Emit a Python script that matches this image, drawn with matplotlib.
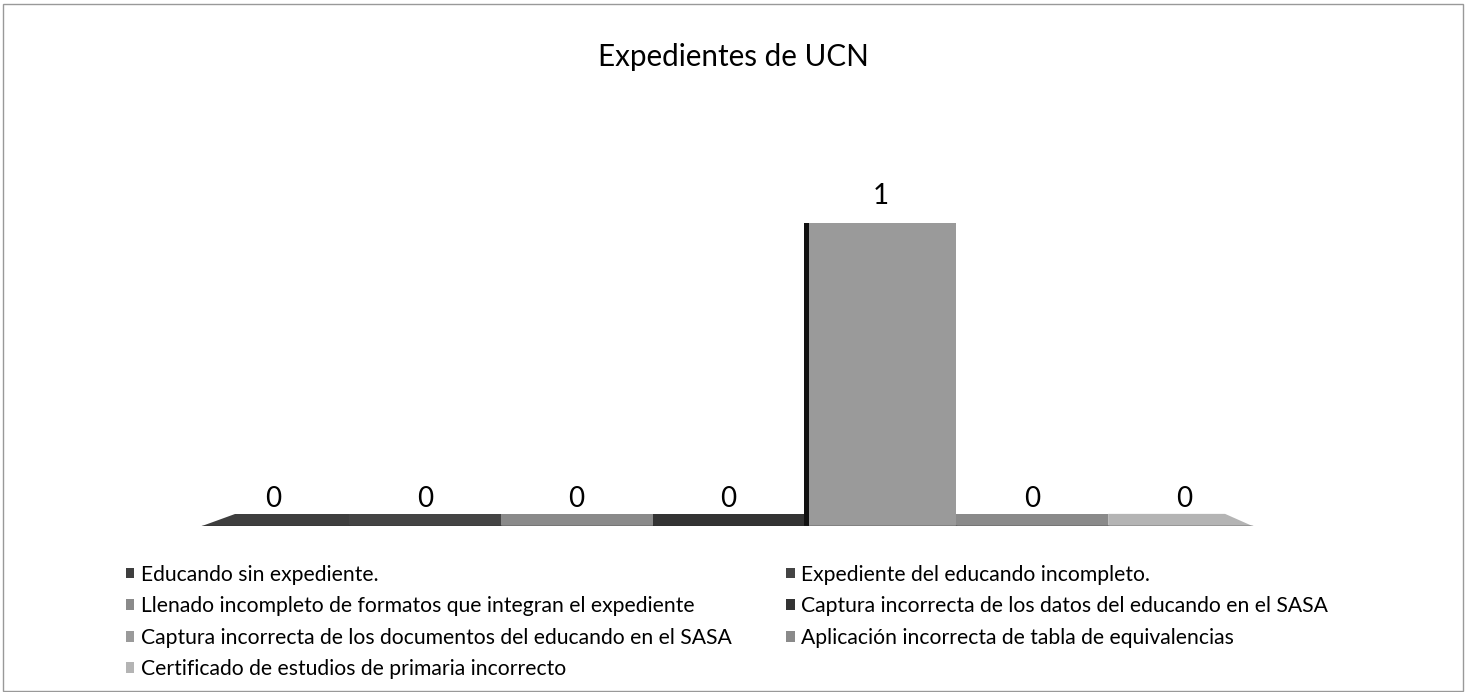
import numpy as np
import matplotlib as mpl
import matplotlib.pyplot as plt
from matplotlib.patches import Patch, Polygon, Rectangle

mpl.rcParams["font.family"] = ["Lato", "DejaVu Sans"]

title = "Expedientes de UCN"
categories = [
    "Educando sin expediente.",
    "Expediente del educando incompleto.",
    "Llenado incompleto de formatos que integran el expediente",
    "Captura incorrecta de los datos del educando en el SASA",
    "Captura incorrecta de los documentos del educando en el SASA",
    "Aplicación incorrecta de tabla de equivalencias",
    "Certificado de estudios de primaria incorrecto",
]
values = [0, 0, 0, 0, 1, 0, 0]
colors = ["#3e3e3e", "#444444", "#8a8a8a", "#333333", "#9a9a9a", "#8a8a8a", "#b4b4b4"]

fig = plt.figure(figsize=(14.66, 6.92), dpi=100)
W, H = 1466, 692

# axes placed in pixel terms: floor at y=526, columns from x=197 to 1260
ax = fig.add_axes([197 / W, (H - 526) / H, (1260 - 197) / W, (526 - 120) / H])
x = np.arange(len(values))
ax.set_xlim(-0.5, len(values) - 0.5)
ax.set_ylim(0, 406 / 303)
ax.axis("off")

depth = 0.04   # apparent depth of the 3d floor plate
n = len(values)
for i, v in enumerate(values):
    # floor plate (top face of each column at zero)
    left, right = x[i] - 0.5, x[i] + 0.5
    l_top, r_top = left, right
    if i == 0:
        left += 0.03
        l_top += 0.25
    if i == n - 1:
        right -= 0.05
        r_top -= 0.23
    ax.add_patch(Polygon([(left, 0), (right, 0), (r_top, depth), (l_top, depth)],
                         closed=True, color=colors[i], lw=0))
    ax.plot([left, right], [0, 0], color="#222222", lw=1)
    if v > 0:
        ax.bar(x[i], v, width=1, color=colors[i], lw=0)
        # dark left side of the column
        ax.bar(x[i] - 0.5, v, width=0.03, align="edge", color="#111111", lw=0)
    ax.text(x[i], v + 0.045, str(v), ha="center", va="bottom", fontsize=20)

fig.text(0.5, 1 - 57 / H, title, ha="center", va="center", fontsize=21.3)

handles = [Patch(facecolor=c, edgecolor="none") for c in colors]
order = [0, 2, 4, 6, 1, 3, 5]
fig.legend([handles[k] for k in order], [categories[k] for k in order],
           ncol=2, loc="upper left", bbox_to_anchor=(115 / W, 1 - 554 / H),
           frameon=False, fontsize=15.2, borderpad=0, handlelength=0.42,
           handleheight=0.42, handletextpad=0.3, columnspacing=2.57,
           labelspacing=0.55)

fig.add_artist(Rectangle((0.002, 0.002), 0.996, 0.992, transform=fig.transFigure,
                         fill=False, edgecolor="#999999", lw=1))

fig.savefig("out.png", dpi=100)
